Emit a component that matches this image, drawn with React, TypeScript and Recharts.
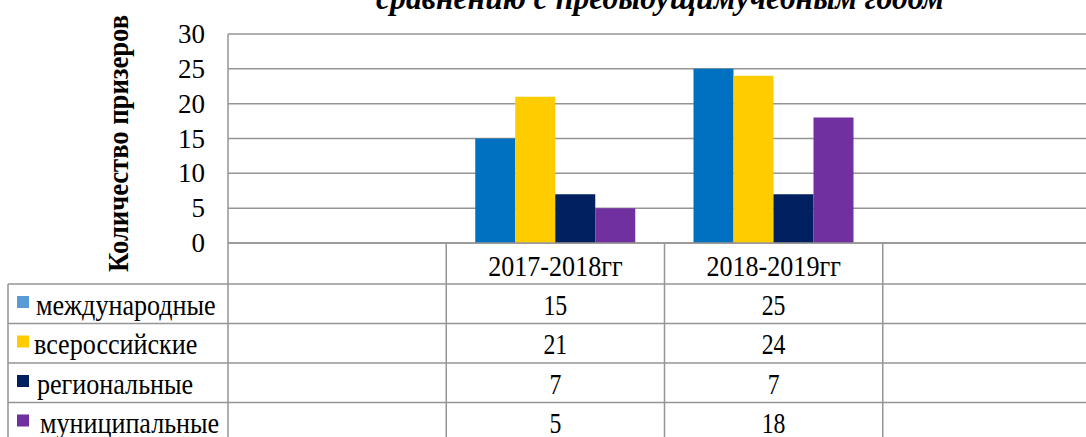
import React from 'react';
import { BarChart, Bar, XAxis, YAxis, CartesianGrid } from 'recharts';

// ---- data ----
const categories = ['', '2017-2018гг', '2018-2019гг', ''];
const seriesNames = ['международные', 'всероссийские', 'региональные', 'муниципальные'];
const international = [null, 15, 25, null];
const allRussian = [null, 21, 24, null];
const regional = [null, 7, 7, null];
const municipal = [null, 5, 18, null];
const yTicks = [0, 5, 10, 15, 20, 25, 30];
const titleText = 'сравнению с предыдущимучебным годом';
const yTitleText = 'Количество призеров';

const barColors = ['#0070C0', '#FFCC00', '#002060', '#7030A0'];
const legendColors = ['#5B9BD5', '#FFCC00', '#002060', '#7030A0'];
const seriesValues = [international, allRussian, regional, municipal];
const seriesKeys = ['s0', 's1', 's2', 's3'];

const data = categories.map((label, i) => {
  const row: any = { key: `c${i}`, label };
  seriesKeys.forEach((k, s) => {
    row[k] = seriesValues[s][i];
  });
  return row;
});

// ---- layout ----
const W = 1110;
const H = 437;
const Y_AXIS_W = 228;
const TOP = 34;
const RIGHT = 9;
const X_AXIS_H = 194;
const PLOT_BOTTOM = H - X_AXIS_H;
const BAND = (W - Y_AXIS_W - RIGHT) / categories.length;
const TABLE_LEFT = 8;
const TABLE_TOP = 284;
const ROW_H = 39.5;
const LINE = '#959595';
const LW = 1.5;
const FONT = 'Liberation Serif, Times New Roman, DejaVu Serif, serif';
const LEGEND_TEXT_X = [36, 34, 37, 40];

function SText(props: any) {
  const { x, y, anchor = 'start', size, sx = 1, children, weight, italic } = props;
  const origin = anchor === 'end' ? 'right center' : anchor === 'middle' ? 'center' : 'left center';
  return (
    <text
      x={x}
      y={y}
      textAnchor={anchor}
      fill="#000"
      style={{
        fontFamily: FONT,
        fontSize: size,
        fontWeight: weight,
        fontStyle: italic ? 'italic' : 'normal',
        transform: `scaleX(${sx})`,
        transformBox: 'fill-box',
        transformOrigin: origin,
      } as any}
    >
      {children}
    </text>
  );
}

function TableTick(props: any) {
  const { x, index } = props;
  const left = x - BAND / 2;
  const right = x + BAND / 2;
  const els: any[] = [];
  els.push(<line key="vl" x1={left} x2={left} y1={PLOT_BOTTOM} y2={H + 5} stroke={LINE} strokeWidth={LW} />);
  if (index === categories.length - 1) {
    els.push(<line key="vr" x1={right} x2={right} y1={PLOT_BOTTOM} y2={H + 5} stroke={LINE} strokeWidth={LW} />);
  }
  els.push(
    <SText key="cat" x={x} y={276.5} anchor="middle" size={29} sx={0.9}>
      {categories[index]}
    </SText>
  );
  seriesValues.forEach((vals, s) => {
    const v = vals[index];
    if (v !== null && v !== undefined) {
      els.push(
        <SText key={`v${s}`} x={x} y={TABLE_TOP + s * ROW_H + 31} anchor="middle" size={29} sx={0.82}>
          {String(v)}
        </SText>
      );
    }
  });
  if (index === 0) {
    els.push(<line key="tl" x1={TABLE_LEFT} x2={TABLE_LEFT} y1={TABLE_TOP} y2={H + 5} stroke={LINE} strokeWidth={LW} />);
    seriesNames.forEach((name, s) => {
      const top = TABLE_TOP + s * ROW_H;
      els.push(<line key={`h${s}`} x1={TABLE_LEFT} x2={W} y1={top} y2={top} stroke={LINE} strokeWidth={LW} />);
      els.push(<rect key={`sq${s}`} x={17} y={top + 12} width={12} height={12} fill={legendColors[s]} />);
      els.push(
        <SText key={`n${s}`} x={LEGEND_TEXT_X[s]} y={top + 31} size={30} sx={0.87}>
          {name}
        </SText>
      );
    });
  }
  return <g>{els}</g>;
}

function YTick(props: any) {
  const { x, y, payload } = props;
  return (
    <SText x={x} y={y + 9} anchor="end" size={27}>
      {String(payload.value)}
    </SText>
  );
}

export default function App() {
  return (
    <div
      style={{
        position: 'fixed',
        left: 0,
        top: 0,
        width: 1086,
        height: 437,
        overflow: 'hidden',
        background: '#fff',
      }}
    >
      <BarChart
        width={W}
        height={H}
        data={data}
        margin={{ top: TOP, right: RIGHT, left: 0, bottom: 0 }}
        barSize={40}
        barGap={0}
      >
        <CartesianGrid vertical={false} stroke={LINE} strokeWidth={LW} />
        <XAxis
          dataKey="key"
          height={X_AXIS_H}
          interval={0}
          tickLine={false}
          axisLine={{ stroke: LINE, strokeWidth: LW }}
          tick={(p: any) => <TableTick {...p} />}
        />
        <YAxis
          width={Y_AXIS_W}
          domain={[0, 30]}
          ticks={yTicks}
          interval={0}
          tickLine={false}
          tickSize={0}
          tickMargin={23}
          axisLine={{ stroke: LINE, strokeWidth: LW }}
          tick={(p: any) => <YTick {...p} />}
        />
        {seriesKeys.map((k, s) => (
          <Bar key={k} dataKey={k} name={seriesNames[s]} fill={barColors[s]} isAnimationActive={false} />
        ))}
      </BarChart>
      <svg
        width={1086}
        height={437}
        style={{ position: 'absolute', left: 0, top: 0, pointerEvents: 'none' }}
      >
        <text
          x={660}
          y={9}
          textAnchor="middle"
          textLength={568}
          lengthAdjust="spacingAndGlyphs"
          fill="#000"
          style={{ fontFamily: FONT, fontSize: 34, fontWeight: 'bold', fontStyle: 'italic' }}
        >
          {titleText}
        </text>
        <text
          x={128}
          y={143.5}
          transform="rotate(-90, 128, 143.5)"
          textAnchor="middle"
          textLength={257}
          lengthAdjust="spacingAndGlyphs"
          fill="#000"
          style={{ fontFamily: FONT, fontSize: 30, fontWeight: 'bold' }}
        >
          {yTitleText}
        </text>
      </svg>
    </div>
  );
}
